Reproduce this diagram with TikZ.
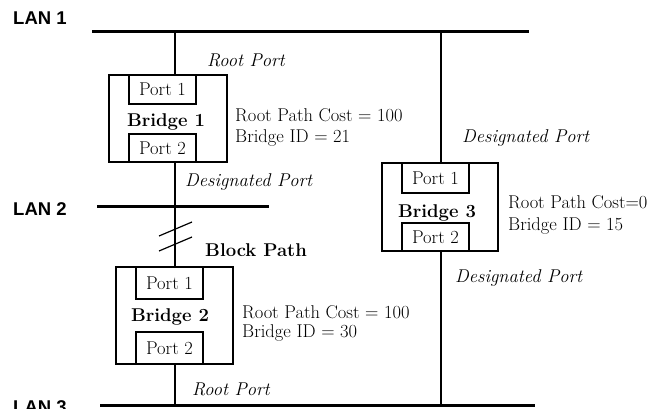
\documentclass[tikz,border=0pt]{standalone}
\usepackage{fontspec}
\newfontfamily\lanfont{Liberation Sans}
\newcommand\txtsz{\fontsize{18.5}{20}\selectfont}
\begin{document}
\begin{tikzpicture}[x=1pt,y=-1pt,
  lan/.style={line width=3pt},
  link/.style={line width=2pt},
  bridgebox/.style={draw, line width=2pt, rectangle, inner sep=0pt},
  portbox/.style={draw, line width=1.2pt, rectangle, inner sep=0pt, minimum width=67pt, font=\txtsz},
  lantxt/.style={anchor=base west, inner sep=0pt, font=\lanfont\bfseries\fontsize{18.5}{20}\selectfont},
  info/.style={anchor=base west, inner sep=0pt, font=\txtsz},
  role/.style={anchor=base west, inner sep=0pt, font=\txtsz\itshape},
  bname/.style={anchor=base, inner sep=0pt, font=\txtsz\bfseries},
  slash/.style={line width=1.2pt}]
\useasboundingbox (0,0) rectangle (662,409);
\clip (0,0) rectangle (662,409);

% LAN labels
\node[lantxt] (lan1t) at (13,25) {LAN 1};
\node[lantxt] (lan2t) at (13,215) {LAN 2};
\node[lantxt] (lan3t) at (13,413) {LAN 3};

% LAN lines
\coordinate (lan1w) at (92,32);  \coordinate (lan1e) at (529,32);
\coordinate (lan2w) at (97,207); \coordinate (lan2e) at (269,207);
\coordinate (lan3w) at (100,405); \coordinate (lan3e) at (535,405);
\draw[lan] (lan1w) -- (lan1e);
\draw[lan] (lan2w) -- (lan2e);
\draw[lan] (lan3w) -- (lan3e);

% Bridges
\node[bridgebox, minimum width=118pt, minimum height=87pt] (b1) at (168,118.5) {};
\node[bridgebox, minimum width=117pt, minimum height=97pt] (b2) at (174.5,315.5) {};
\node[bridgebox, minimum width=116pt, minimum height=88pt] (b3) at (440,207) {};

% Ports
\node[portbox, minimum height=29pt] (b1p1) at (162.5,89.5) {Port 1};
\node[portbox, minimum height=28pt] (b1p2) at (162.5,148) {Port 2};
\node[portbox, minimum height=32pt] (b2p1) at (169.5,283) {Port 1};
\node[portbox, minimum height=32pt] (b2p2) at (169.5,348) {Port 2};
\node[portbox, minimum height=30pt] (b3p1) at (435.5,178) {Port 1};
\node[portbox, minimum height=28pt] (b3p2) at (435.5,237) {Port 2};

% Bridge names
\node[bname] (b1n) at (166,127) {Bridge 1};
\node[bname] (b2n) at (170,321) {Bridge 2};
\node[bname] (b3n) at (437,218) {Bridge 3};

% Vertical links
\coordinate (lt) at (175,32);  \coordinate (lb) at (175,405);
\coordinate (rt) at (441,32);  \coordinate (rb) at (441,405);
\draw[link] (lt) -- (lt |- b1.north);
\draw[link] (lt |- b1.south) -- (lt |- b2.north);
\draw[link] (lt |- b2.south) -- (lb);
\draw[link] (rt) -- (rt |- b3.north);
\draw[link] (rt |- b3.south) -- (rb);

% Block marks
\draw[slash] (159,236) -- (192,222);
\draw[slash] (159,251) -- (192,237);

% Role labels
\node[role] (rp1) at (207,67) {Root Port};
\node[role] (dp1) at (185,187) {Designated Port};
\node[role] (dp3a) at (462,143) {Designated Port};
\node[role] (dp3b) at (455,283) {Designated Port};
\node[role] (rp2) at (192,395) {Root Port};
\node[bname, anchor=base west] (blk) at (205,257) {Block Path};

% Info labels
\node[info] (i1a) at (235,122) {Root Path Cost = 100};
\node[info] (i1b) at (235,143) {Bridge ID = 21};
\node[info] (i2a) at (242,318) {Root Path Cost = 100};
\node[info] (i2b) at (242,337) {Bridge ID = 30};
\node[info] (i3a) at (508,209) {Root Path Cost=0};
\node[info] (i3b) at (508,230) {Bridge ID = 15};
\end{tikzpicture}
\end{document}
